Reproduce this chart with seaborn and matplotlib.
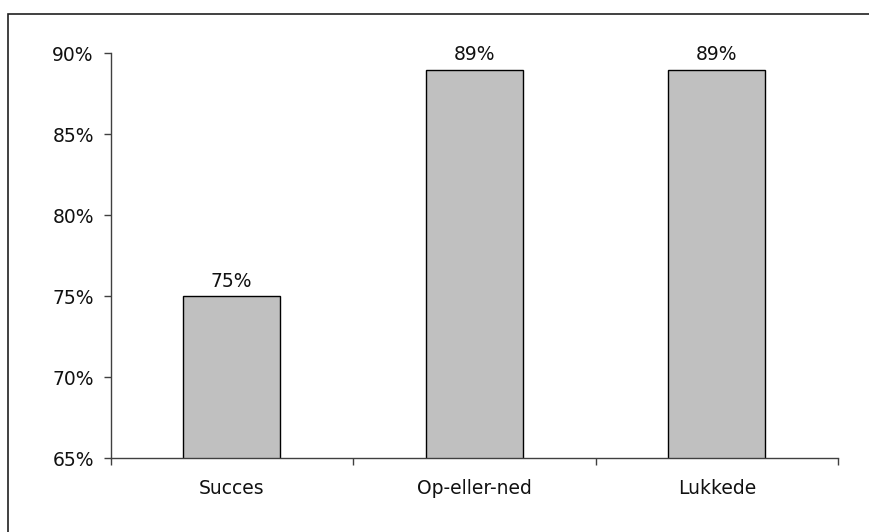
import matplotlib
matplotlib.use("Agg")
import matplotlib.pyplot as plt
from matplotlib.patches import Rectangle
from matplotlib.ticker import FuncFormatter, FixedLocator
import seaborn as sns
import pandas as pd

# Data
categories = ["Succes", "Op-eller-ned", "Lukkede"]
values = [75, 89, 89]
y_ticks = [65, 70, 75, 80, 85, 90]

sns.set_theme(style="white")
plt.rcParams["font.family"] = ["DejaVu Sans"]

df = pd.DataFrame({"kategori": categories, "andel": values})

fig = plt.figure(figsize=(8.69, 5.32), dpi=100)
ax = fig.add_axes([110.5 / 869, (532 - 458.3) / 532, (838 - 110.5) / 869, (458.3 - 53.3) / 532])

sns.barplot(data=df, x="kategori", y="andel", color="#C0C0C0", saturation=1,
            edgecolor="black", linewidth=1.0, width=0.4, ax=ax)

ax.set_ylim(65, 90)
ax.set_xlim(-0.5, len(categories) - 0.5)
ax.set_yticks(y_ticks)
ax.yaxis.set_major_formatter(FuncFormatter(lambda v, _: f"{v:.0f}%"))
ax.set_xlabel("")
ax.set_ylabel("")

# x ticks sit between the categories, labels stay centred
ax.xaxis.set_minor_locator(FixedLocator([i - 0.5 for i in range(len(categories) + 1)]))
ax.tick_params(axis="x", which="major", length=0, pad=15, labelsize=13.5, colors="#111111")
ax.tick_params(axis="x", which="minor", length=5, width=1, color="#404040", direction="out", bottom=True)
ax.tick_params(axis="y", which="major", length=5, width=1, color="#404040", direction="out",
               left=True, pad=7, labelsize=13.5, labelcolor="#111111")

for side in ["top", "right"]:
    ax.spines[side].set_visible(False)
for side in ["left", "bottom"]:
    ax.spines[side].set_color("#404040")
    ax.spines[side].set_linewidth(1.0)

for container in ax.containers:
    ax.bar_label(container, labels=[f"{v:g}%" for v in values], padding=4, fontsize=13.5, color="#111111")

# Outer chart frame
fig.patches.append(Rectangle((8 / 869, -0.1), 1.2, (532 - 14) / 532 + 0.1, transform=fig.transFigure,
                             fill=False, edgecolor="#202020", linewidth=1.2))

fig.savefig("out.png", dpi=100, facecolor="white")
